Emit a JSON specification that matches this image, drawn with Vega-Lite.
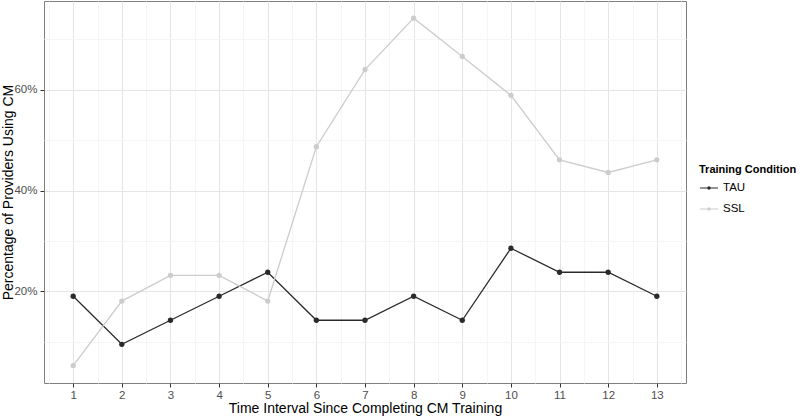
{
  "$schema": "https://vega.github.io/schema/vega-lite/v6.json",
  "width": 642,
  "height": 382,
  "autosize": {"type": "none"},
  "padding": {"left": 44, "top": 1, "right": 114, "bottom": 34},
  "background": "white",
  "config": {
    "font": "Liberation Sans",
    "view": {"stroke": "#7F7F7F", "strokeWidth": 1},
    "axis": {
      "domain": false,
      "tickSize": 4,
      "tickWidth": 1,
      "labelFontSize": 11.5,
      "labelColor": "#4D4D4D",
      "titleFontSize": 14,
      "titleFontWeight": "normal",
      "titleColor": "#000000",
      "gridWidth": 1
    }
  },
  "data": {
    "values": [
      {"t": 1, "cond": "TAU", "p": 0.1905},
      {"t": 2, "cond": "TAU", "p": 0.0952},
      {"t": 3, "cond": "TAU", "p": 0.1429},
      {"t": 4, "cond": "TAU", "p": 0.1905},
      {"t": 5, "cond": "TAU", "p": 0.2381},
      {"t": 6, "cond": "TAU", "p": 0.1429},
      {"t": 7, "cond": "TAU", "p": 0.1429},
      {"t": 8, "cond": "TAU", "p": 0.1905},
      {"t": 9, "cond": "TAU", "p": 0.1429},
      {"t": 10, "cond": "TAU", "p": 0.2857},
      {"t": 11, "cond": "TAU", "p": 0.2381},
      {"t": 12, "cond": "TAU", "p": 0.2381},
      {"t": 13, "cond": "TAU", "p": 0.1905},
      {"t": 1, "cond": "SSL", "p": 0.053},
      {"t": 2, "cond": "SSL", "p": 0.181},
      {"t": 3, "cond": "SSL", "p": 0.232},
      {"t": 4, "cond": "SSL", "p": 0.232},
      {"t": 5, "cond": "SSL", "p": 0.181},
      {"t": 6, "cond": "SSL", "p": 0.487},
      {"t": 7, "cond": "SSL", "p": 0.640},
      {"t": 8, "cond": "SSL", "p": 0.742},
      {"t": 9, "cond": "SSL", "p": 0.666},
      {"t": 10, "cond": "SSL", "p": 0.589},
      {"t": 11, "cond": "SSL", "p": 0.461},
      {"t": 12, "cond": "SSL", "p": 0.436},
      {"t": 13, "cond": "SSL", "p": 0.461}
    ]
  },
  "encoding": {
    "x": {
      "field": "t",
      "type": "quantitative",
      "scale": {"domain": [0.4, 13.6], "nice": false, "zero": false},
      "axis": {
        "title": "Time Interval Since Completing CM Training",
        "values": [0.5, 1, 1.5, 2, 2.5, 3, 3.5, 4, 4.5, 5, 5.5, 6, 6.5, 7, 7.5, 8, 8.5, 9, 9.5, 10, 10.5, 11, 11.5, 12, 12.5, 13, 13.5],
        "format": ".1f",
        "labelExpr": "datum.value % 1 == 0 ? format(datum.value, 'd') : ''",
        "gridColor": {"condition": {"test": "datum.value % 1 != 0", "value": "#F5F5F5"}, "value": "#E5E5E5"},
        "tickColor": {"condition": {"test": "datum.value % 1 != 0", "value": "transparent"}, "value": "#333333"},
        "labelPadding": 2,
        "titlePadding": 1,
        "labelFlush": false
      }
    },
    "y": {
      "field": "p",
      "type": "quantitative",
      "scale": {"domain": [0.0185, 0.776], "nice": false, "zero": false},
      "axis": {
        "title": "Percentage of Providers Using CM",
        "values": [0.1, 0.2, 0.3, 0.4, 0.5, 0.6, 0.7],
        "format": ".0%",
        "labelExpr": "round(datum.value * 10) % 2 == 0 ? datum.label : ''",
        "gridColor": {"condition": {"test": "round(datum.value * 10) % 2 != 0", "value": "#F5F5F5"}, "value": "#E5E5E5"},
        "tickColor": {"condition": {"test": "round(datum.value * 10) % 2 != 0", "value": "transparent"}, "value": "#333333"},
        "labelPadding": 3,
        "titleX": -43,
        "titleY": 191,
        "titleAngle": 270,
        "titleBaseline": "top",
        "titleAlign": "center",
        "labelFlush": false
      }
    },
    "color": {
      "field": "cond",
      "type": "nominal",
      "scale": {"domain": ["TAU", "SSL"], "range": ["#2A2A2A", "#CCCCCC"]},
      "legend": {
        "title": "Training Condition",
        "orient": "none",
        "legendX": 655,
        "legendY": 163,
        "titleFontSize": 11,
        "titleFontWeight": "bold",
        "titleColor": "#000000",
        "labelFontSize": 11.5,
        "labelColor": "#000000",
        "symbolType": "M-1,0L1,0M-0.12,0a0.12,0.12 0 1,0 0.24,0a0.12,0.12 0 1,0 -0.24,0",
        "symbolSize": 324,
        "symbolStrokeWidth": 1.2,
        "labelOffset": 4,
        "rowPadding": 5,
        "titlePadding": 3
      }
    }
  },
  "layer": [
    {"mark": {"type": "line", "strokeWidth": 1.3}},
    {"mark": {"type": "circle", "size": 28, "opacity": 1}}
  ]
}
